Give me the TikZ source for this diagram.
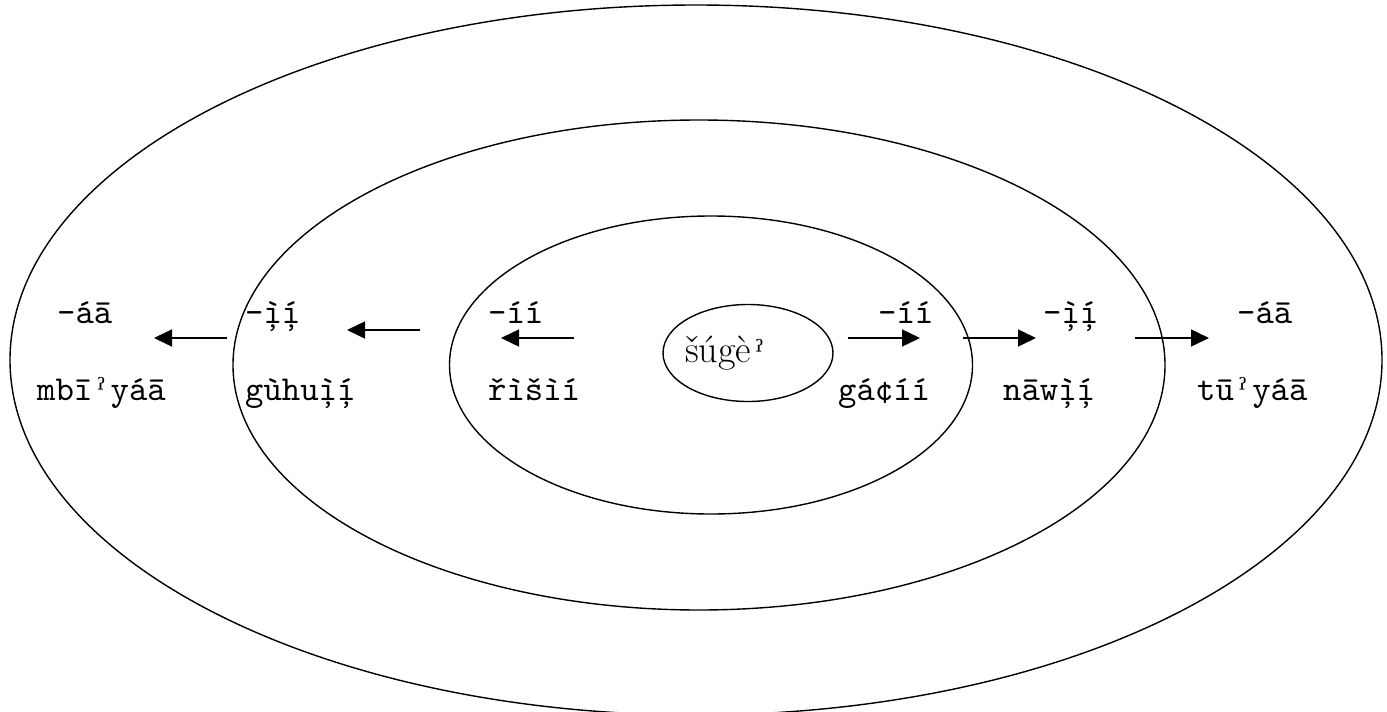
\documentclass[tikz,border=0pt]{standalone}
\usepackage{fontspec}
\setmainfont{Latin Modern Roman}
\setmonofont{lmmono10-regular.otf}
\newfontfamily\glotfont{DejaVu Serif}
\newcommand{\gl}{\makebox[0.525em]{\glotfont\fontsize{30}{34}\selectfont ˀ}}
\newcommand{\glr}{\hspace{0.12em}{\glotfont\fontsize{30}{34}\selectfont ˀ}}
\usetikzlibrary{shapes.geometric,arrows.meta}
\begin{document}
\begin{tikzpicture}[x=1pt,y=-1pt,
  ring/.style={draw,ellipse,line width=1.4pt,inner sep=0pt},
  lab/.style={font=\fontsize{35}{40}\selectfont\ttfamily,inner sep=0pt,anchor=base west},
  arr/.style={line width=1.4pt,-{Triangle[length=18pt,width=17pt]}}]
\useasboundingbox (0,0) rectangle (1387,712);
\clip (0,0) rectangle (1387,712);
\node[ring,minimum width=1372pt,minimum height=710pt] (outer) at (696,360) {};
\node[ring,minimum width=932pt,minimum height=490pt] (middle) at (699,365) {};
\node[ring,minimum width=523pt,minimum height=298pt] (inner) at (711,365) {};
\node[ring,minimum width=170pt,minimum height=97pt] (core) at (748,353) {};
\node[inner sep=0pt,anchor=base west,font=\fontsize{38}{44}\selectfont] (coretext) at (685,362) {šúgè\glr};
% left labels
\node[lab] (l3s) at (57,323) {-áā};
\node[lab] (l3w) at (37,400) {mbī\gl yáā};
\node[lab] (l2s) at (245,323) {-ì̦í̦};
\node[lab] (l2w) at (245,400) {gùhuì̦í̦};
\node[lab] (l1s) at (488,323) {-íí};
\node[lab] (l1w) at (488,400) {řìšìí};
% right labels
\node[lab] (r1s) at (878,323) {-íí};
\node[lab] (r1w) at (838,400) {gá¢íí};
\node[lab] (r2s) at (1043,323) {-ì̦í̦};
\node[lab] (r2w) at (1003,400) {nāwì̦í̦};
\node[lab] (r3s) at (1237,323) {-áā};
\node[lab] (r3w) at (1197,400) {tū\gl yáā};
% arrows
\coordinate (a1s) at (574,338); \coordinate (a1e) at (501,338);
\coordinate (a2s) at (420,330); \coordinate (a2e) at (347,330);
\coordinate (a3s) at (227,338); \coordinate (a3e) at (154,338);
\coordinate (b1s) at (848,338); \coordinate (b1e) at (920,338);
\coordinate (b2s) at (963,338); \coordinate (b2e) at (1036,338);
\coordinate (b3s) at (1135,338); \coordinate (b3e) at (1209,338);
\draw[arr] (a1s) -- (a1e);
\draw[arr] (a2s) -- (a2e);
\draw[arr] (a3s) -- (a3e);
\draw[arr] (b1s) -- (b1e);
\draw[arr] (b2s) -- (b2e);
\draw[arr] (b3s) -- (b3e);
\end{tikzpicture}
\end{document}
